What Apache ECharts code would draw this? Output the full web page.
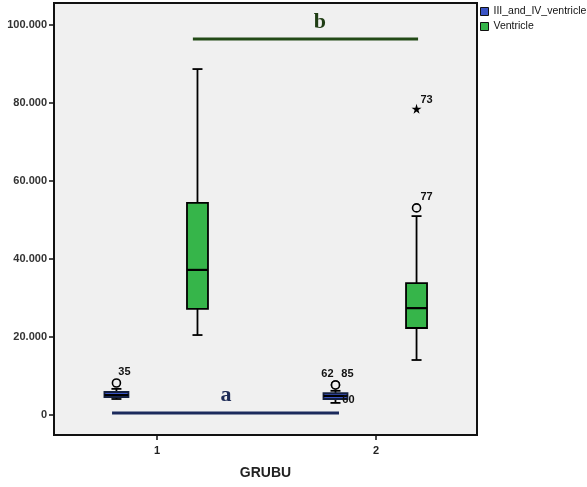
<!DOCTYPE html>
<html>
<head>
<meta charset="utf-8">
<script src="https://cdn.jsdelivr.net/npm/echarts@6/dist/echarts.min.js"></script>
<style>
html,body{margin:0;padding:0;background:#fff;}
#chart{width:587px;height:487px;}
</style>
</head>
<body>
<div id="chart"></div>
<script>
// ---- data ----
const groups = [1, 2];
const seriesNames = ['III_and_IV_ventricle', 'Ventricle'];
// [min, Q1, median, Q3, max]
const ivStats = [[4.1, 4.6, 5.1, 5.9, 6.7], [3.1, 4.1, 4.9, 5.6, 6.2]];
const ventStats = [[20.5, 27.2, 37.2, 54.4, 88.7], [14.1, 22.3, 27.4, 33.8, 51.0]];
// [group, value, case id]
const ivOutliers = [[1, 8.2, '35'], [2, 7.7, '62'], [2, 7.7, '85'], [2, 3.9, '60']];
const ventOutliers = [[2, 53.1, '77']];
const ventExtremes = [[2, 78.5, '73']];
const yTicks = [0, 20, 40, 60, 80, 100];
const xTicks = [1, 2];
// significance bars: [xStart, xEnd, y]
const sigA = [0.795, 1.831, 0.5];
const sigB = [1.164, 2.192, 96.4];
const sigLetters = [[1.315, 5.1, 'a'], [1.744, 100.8, 'b']];

// ---- styling ----
const offset = 0.185;
const ivFill = '#3a53c4', ivStroke = '#14203f';
const ventFill = '#36b54a', ventStroke = '#000';
const labelOffsets = {'35': [8, -11], '62': [-8, -11], '85': [12, -11], '60': [13, 0], '77': [10, -11], '73': [10, -9]};
const starPath = 'path://M50,0 L61,35 L98,35 L68,57 L79,91 L50,70 L21,91 L32,57 L2,35 L39,35 Z';

function renderBox(boxWidth, capWidth, fill, stroke) {
  return function (params, api) {
    const x = api.value(0);
    const pMin = api.coord([x, api.value(1)]);
    const pQ1 = api.coord([x, api.value(2)]);
    const pMed = api.coord([x, api.value(3)]);
    const pQ3 = api.coord([x, api.value(4)]);
    const pMax = api.coord([x, api.value(5)]);
    const cx = pMin[0], hw = boxWidth / 2, cw = capWidth / 2;
    const ls = {stroke: '#000', lineWidth: 1.8};
    return {type: 'group', children: [
      {type: 'line', shape: {x1: cx, y1: pMax[1], x2: cx, y2: pQ3[1]}, style: ls},
      {type: 'line', shape: {x1: cx, y1: pQ1[1], x2: cx, y2: pMin[1]}, style: ls},
      {type: 'line', shape: {x1: cx - cw, y1: pMax[1], x2: cx + cw, y2: pMax[1]}, style: ls},
      {type: 'line', shape: {x1: cx - cw, y1: pMin[1], x2: cx + cw, y2: pMin[1]}, style: ls},
      {type: 'rect', shape: {x: cx - hw, y: pQ3[1], width: boxWidth, height: pQ1[1] - pQ3[1]}, style: {fill: fill, stroke: stroke, lineWidth: 1.8}},
      {type: 'line', shape: {x1: cx - hw, y1: pMed[1], x2: cx + hw, y2: pMed[1]}, style: {stroke: '#000', lineWidth: 2.2}}
    ]};
  };
}

function outlierData(list, dx) {
  return list.map(function (d) {
    const item = {value: [d[0] + dx, d[1]], caseId: d[2],
      label: {show: true, formatter: d[2], offset: labelOffsets[d[2]]}};
    if (d[2] === '60') item.symbolSize = 0;
    return item;
  });
}

const outlierLabel = {position: 'inside', fontSize: 11, fontWeight: 'bold', color: '#111', textBorderWidth: 0,
  fontFamily: 'Arial, Liberation Sans'};

const option = {
  animation: false,
  backgroundColor: '#fff',
  grid: {left: 54, right: 110, top: 3, bottom: 52, show: true, backgroundColor: '#f0f0f0', borderColor: '#111', borderWidth: 2},
  legend: {
    orient: 'vertical', left: 480, top: 6, itemWidth: 8, itemHeight: 8, itemGap: 4, padding: 0,
    selectedMode: false,
    textStyle: {fontSize: 10.5, color: '#111', fontFamily: 'Arial, Liberation Sans'},
    data: [
      {name: seriesNames[0], icon: 'rect', itemStyle: {color: ivFill, borderColor: '#111', borderWidth: 1}},
      {name: seriesNames[1], icon: 'rect', itemStyle: {color: ventFill, borderColor: '#111', borderWidth: 1}}
    ]
  },
  xAxis: {
    type: 'value', min: 0.53, max: 2.461,
    name: 'GRUBU', nameLocation: 'middle', nameGap: 31,
    nameTextStyle: {fontSize: 14, fontWeight: 'bold', color: '#222', fontFamily: 'Arial, Liberation Sans'},
    axisLine: {show: true, onZero: false, lineStyle: {color: '#111', width: 2}},
    axisTick: {show: true, length: 5, customValues: xTicks, lineStyle: {color: '#111', width: 1.5}},
    axisLabel: {customValues: xTicks, margin: 10, fontSize: 11, fontWeight: 'bold', color: '#222', fontFamily: 'Arial, Liberation Sans'},
    splitLine: {show: false}
  },
  yAxis: {
    type: 'value', min: -5.13, max: 105.64,
    axisLine: {show: true, onZero: false, lineStyle: {color: '#111', width: 2}},
    axisTick: {show: true, length: 5, customValues: yTicks, lineStyle: {color: '#111', width: 1.5}},
    axisLabel: {customValues: yTicks, margin: 7, fontSize: 11, fontWeight: 'bold', color: '#333', fontFamily: 'Arial, Liberation Sans',
      formatter: function (v) { return v === 0 ? '0' : v.toFixed(3); }},
    splitLine: {show: false}
  },
  series: [
    {
      name: seriesNames[0], type: 'custom', z: 3,
      itemStyle: {color: ivFill},
      renderItem: renderBox(24, 10, ivFill, ivStroke),
      encode: {x: 0, y: [1, 2, 3, 4, 5]},
      data: groups.map(function (g, i) { return [g - offset].concat(ivStats[i]); })
    },
    {
      name: seriesNames[1], type: 'custom', z: 3,
      itemStyle: {color: ventFill},
      renderItem: renderBox(21, 10, ventFill, ventStroke),
      encode: {x: 0, y: [1, 2, 3, 4, 5]},
      data: groups.map(function (g, i) { return [g + offset].concat(ventStats[i]); })
    },
    {
      type: 'scatter', z: 4, symbol: 'circle', symbolSize: 8,
      itemStyle: {color: '#f0f0f0', borderColor: '#000', borderWidth: 1.6, opacity: 1},
      label: outlierLabel,
      data: outlierData(ivOutliers, -offset).concat(outlierData(ventOutliers, offset))
    },
    {
      type: 'scatter', z: 4, symbol: starPath, symbolSize: 10,
      itemStyle: {color: '#000', opacity: 1},
      label: outlierLabel,
      data: outlierData(ventExtremes, offset)
    },
    {
      type: 'line', z: 2, symbol: 'none', silent: true,
      lineStyle: {color: '#1b2a5c', width: 3},
      data: [[sigA[0], sigA[2]], [sigA[1], sigA[2]]]
    },
    {
      type: 'line', z: 2, symbol: 'none', silent: true,
      lineStyle: {color: '#234a17', width: 3},
      data: [[sigB[0], sigB[2]], [sigB[1], sigB[2]]]
    },
    {
      type: 'scatter', z: 5, symbolSize: 0, silent: true,
      itemStyle: {opacity: 1},
      label: {show: true, position: 'inside', fontSize: 22, fontWeight: 'bold', textBorderWidth: 0,
        fontFamily: 'Liberation Serif, Times New Roman, serif',
        formatter: function (p) { return p.data.letter; }},
      data: sigLetters.map(function (d) {
        return {value: [d[0], d[1]], letter: d[2], label: {color: d[2] === 'a' ? '#1c2a55' : '#1f3d14'}};
      })
    }
  ]
};

const chart = echarts.init(document.getElementById('chart'), null, {renderer: 'canvas'});
chart.setOption(option);
</script>
</body>
</html>
